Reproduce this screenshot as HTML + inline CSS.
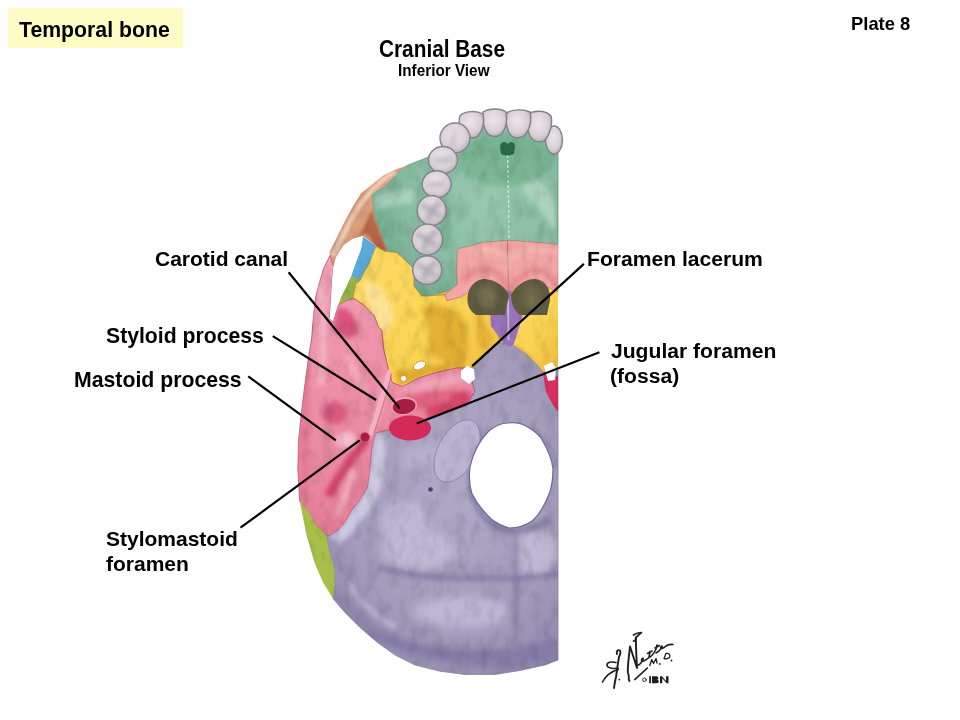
<!DOCTYPE html>
<html><head><meta charset="utf-8">
<style>
html,body{margin:0;padding:0;background:#fff;}
body{width:960px;height:720px;position:relative;overflow:hidden;font-family:"Liberation Sans",sans-serif;}
.t{position:absolute;font-weight:bold;color:#000;white-space:nowrap;line-height:30px;font-size:21px;will-change:transform;}
#box{position:absolute;left:8px;top:8px;width:175px;height:40px;background:#fffcc5;}
svg{position:absolute;left:0;top:0;}
</style></head><body>
<div id="box"></div>
<div class="t" style="left:19px;top:14.8px;font-size:21.25px;">Temporal bone</div>
<div class="t" style="left:851px;top:9px;font-size:18.4px;">Plate 8</div>
<div class="t" style="left:378.6px;top:35.1px;font-size:20.8px;transform:scale(1,1.16);transform-origin:0 22.2px;">Cranial Base</div>
<div class="t" style="left:397.6px;top:55.7px;font-size:15.3px;transform:scale(1,1.12);transform-origin:0 20.3px;">Inferior View</div>
<svg width="960" height="720" viewBox="0 0 960 720">

<defs>
<radialGradient id="gLav" cx="0.55" cy="0.42" r="0.7">
<stop offset="0" stop-color="#b0a9c6"/><stop offset="0.65" stop-color="#a49cbc"/><stop offset="1" stop-color="#9088ac"/>
</radialGradient>
<radialGradient id="gGreen" cx="0.6" cy="0.45" r="0.65">
<stop offset="0" stop-color="#98c8b0"/><stop offset="0.6" stop-color="#8abea4"/><stop offset="1" stop-color="#70aa8e"/>
</radialGradient>
<linearGradient id="gPink" x1="0.3" y1="0" x2="0.5" y2="1">
<stop offset="0" stop-color="#f2a2b6"/><stop offset="0.4" stop-color="#ee90a8"/><stop offset="0.75" stop-color="#ea86a0"/><stop offset="1" stop-color="#e47894"/>
</linearGradient>
<linearGradient id="gYel" x1="0" y1="0" x2="1" y2="1">
<stop offset="0" stop-color="#fddc66"/><stop offset="0.6" stop-color="#fbd452"/><stop offset="1" stop-color="#ecbd3e"/>
</linearGradient>
<linearGradient id="gBrown" x1="0" y1="0" x2="1" y2="1">
<stop offset="0" stop-color="#c27250"/><stop offset="0.45" stop-color="#dc9e7e"/><stop offset="1" stop-color="#b8643f"/>
</linearGradient>
<radialGradient id="gTooth" cx="0.45" cy="0.4" r="0.65">
<stop offset="0" stop-color="#ece6ea"/><stop offset="0.65" stop-color="#d8d0d6"/><stop offset="1" stop-color="#b4acb4"/>
</radialGradient>
<filter id="tex" x="0" y="0" width="100%" height="100%">
<feTurbulence type="fractalNoise" baseFrequency="0.09 0.05" numOctaves="3" seed="7"/>
<feColorMatrix type="matrix" values="0 0 0 0 0  0 0 0 0 0  0 0 0 0 0  0 0 0 -2.2 1.25"/>
</filter>
<filter id="blur2" x="-20%" y="-20%" width="140%" height="140%"><feGaussianBlur stdDeviation="2.5"/></filter>
<filter id="blur1" x="-20%" y="-20%" width="140%" height="140%"><feGaussianBlur stdDeviation="1.2"/></filter>
<filter id="blur4" x="-20%" y="-20%" width="140%" height="140%"><feGaussianBlur stdDeviation="5"/></filter>
<clipPath id="cSkull"><path d="M558,128 L540,116 L518,114 L494,114 L470,118 L456,128 L444,142 L426,158 L408,165.5 L383,175 L361,193 L346,218 L334,243 L326,260 L315,299 L309,352 L301.7,410 L297.8,468 L301,503 L306.7,536 L315,564 L333,598.6 L345,612.5 L377.5,642.5 L415,665 L465,674.5 L495,674.5 L545,665 L558,660 Z"/></clipPath>
<clipPath id="cLav"><path d="M499.7,342.8 L513.6,345.6 L526,354 L537,365 L542.8,372 L558,370 L558,660 L545,665 L520,670.5 L495,674.5 L465,674.5 L440,671.2 L415,665 L395,655 L377.5,642.5 L360,627.5 L345,612.5 L333,598.6 L334.4,589 L334.4,569.4 L328.9,550 L326,534.7 L328,536 L338.6,530.3 L346.4,520.6 L352,509 L358,503 L367.8,487.5 L369.7,472 L371.7,448.6 L375.6,433 L400,428 L433,418 L466.7,405.6 L474.7,391.4 L472,381.7 L473,368 L485.8,355 Z"/></clipPath>
<clipPath id="cGreen"><path d="M558,132 L540,126 L520,122 L494,121 L470,124 L450,134 L438,152 L426,158 L406.7,165.6 L399,171 L395,176 L385,186 L371.7,194.7 L373.6,214 L381.4,235.6 L387.2,251 L396.4,252.4 L404,259 L414,269 L414,286 L421.7,296 L427.5,296 L448,290.8 L457,285 L456.5,271.7 L457.5,250.8 L459.6,248.7 L482.5,242.5 L509.6,240.4 L536.7,242.5 L558,244.6 Z"/></clipPath>
<clipPath id="cPink"><path d="M330,255.5 L323.7,268.2 L319.2,283.4 L315.3,298.7 L313,321.6 L311.5,340 L309.4,351.7 L305.6,378.9 L301.7,410 L298.7,438.9 L297.8,468 L299.7,501 L309.4,512.8 L315.3,524.4 L323,532.2 L328,536 L338.6,530.3 L346.4,520.6 L352,509 L358,503 L367.8,487.5 L369.7,472 L371.7,448.6 L375.6,433 L391,429 L420,422 L445,413 L466.7,405.6 L474.7,391.4 L472,381.7 L473,368 L465,368 L456.7,368 L438,372 L419,378 L402.5,386.7 L392,382.5 L388,368 L383.7,349 L381.7,330 L378.7,327.7 L374,315.5 L363.4,304.8 L354.3,298.7 L346.6,300.2 L337.5,306.3 L333,321.6 L329.8,318.5 L331.4,291 L333,268 L334.4,269.7 Z"/></clipPath>
<clipPath id="cBrown"><path d="M408,165.5 L396.7,168.9 L383.3,175.5 L372.2,184.4 L361.1,193.3 L353.3,205.8 L346.4,218.3 L339.4,232.2 L333.9,243.3 L329.5,252 L330,255.5 L334.4,269.7 L336,257.5 L343.6,245.3 L352.7,239 L363.4,236 L376,246 L384.7,251.4 L387.2,251 L381.4,235.6 L375,218 L373.6,214 L371.7,194.7 L378,190 L385,186 L389,181 L395,176 L399,171 Z"/></clipPath>
<clipPath id="cSal"><path d="M457.5,250.8 L459.6,248.7 L482.5,242.5 L509.6,240.4 L536.7,242.5 L558,244.6 L558,292 L549,288 L530.4,279 L512,290 L507.5,292.5 L482.5,280 L468,292.5 L461.7,296.7 L447,300.8 L445,294.6 L458,284 L456.5,271.7 Z"/></clipPath>
<clipPath id="cYel"><path d="M360.4,280.4 L364,272 L369.5,263.6 L372,256 L376,246.5 L384.7,251.4 L396.4,252.4 L404,259 L414,269 L414,286 L421.7,296 L427.5,296 L445,294.6 L447,300.8 L460,297 L470,286 L478,300 L500,300 L496,325 L499.7,342.8 L485.8,355 L473,368 L465,368 L456.7,368 L438,372 L419,378 L402.5,386.7 L392,382.5 L388,368 L383.7,349 L381.7,330 L378.7,327.7 L374,315.5 L363.4,304.8 L354.3,298.7 L352.7,298.7 L355.8,283.4 Z"/></clipPath>
</defs>
<path d="M414,262 L558,262 L558,378 L470,384 L400,392 L380,300 Z" fill="#f0c440"/>
<!-- lavender occipital base -->
<path d="M499.7,342.8 L513.6,345.6 L526,354 L537,365 L542.8,372 L558,370 L558,660 L545,665 L520,670.5 L495,674.5 L465,674.5 L440,671.2 L415,665 L395,655 L377.5,642.5 L360,627.5 L345,612.5 L333,598.6 L334.4,589 L334.4,569.4 L328.9,550 L326,534.7 L328,536 L338.6,530.3 L346.4,520.6 L352,509 L358,503 L367.8,487.5 L369.7,472 L371.7,448.6 L375.6,433 L400,428 L433,418 L466.7,405.6 L474.7,391.4 L472,381.7 L473,368 L485.8,355 Z" fill="url(#gLav)" stroke="#8a7ea8" stroke-width="0.8"/>
<g clip-path="url(#cLav)"><g filter="url(#blur4)" opacity="0.8">
<path d="M335,600 C370,645 430,668 510,668 L560,660 L560,640 C520,652 455,655 405,640 C372,628 350,610 340,590 Z" fill="#8278a4"/>
<ellipse cx="405" cy="522" rx="24" ry="22" fill="#c4bdd8"/>
<ellipse cx="418" cy="550" rx="36" ry="20" fill="#c6c0da"/>
<ellipse cx="536" cy="552" rx="20" ry="24" fill="#c6c0da"/>
<ellipse cx="462" cy="612" rx="48" ry="16" fill="#c4bdd8"/>
<ellipse cx="430" cy="460" rx="30" ry="14" fill="#bab3d0"/>
</g><g filter="url(#blur2)" opacity="0.75">
<path d="M380,568 C410,576 440,579 470,578 C495,578 520,581 558,574" stroke="#7c72a0" stroke-width="5" fill="none"/>
<path d="M365,632 C400,650 460,660 520,653 C540,649 550,646 558,643" stroke="#8278a4" stroke-width="6" fill="none"/>
<path d="M515,532 C516,570 516,610 515,648" stroke="#887ea8" stroke-width="4" fill="none"/>
<path d="M482,432 C470,452 466,488 482,514 C498,534 528,536 550,518" stroke="#7a6f9e" stroke-width="6" fill="none"/>
<path d="M530,428 C545,440 556,455 558,470" stroke="#8a80aa" stroke-width="5" fill="none"/>
<path d="M350,585 C362,605 380,620 398,628" stroke="#c6bedc" stroke-width="5" fill="none"/>
</g></g>
<!-- occipital condyle -->
<ellipse cx="457" cy="451" rx="19" ry="34" transform="rotate(28 457 451)" fill="#bcb2d2" stroke="#8c81ac" stroke-width="0.8"/>
<!-- hypoglossal canal dot -->
<circle cx="430.5" cy="489.5" r="2.3" fill="#4a4068"/>
<!-- green palate -->
<path d="M558,132 L540,126 L520,122 L494,121 L470,124 L450,134 L438,152 L426,158 L406.7,165.6 L399,171 L395,176 L385,186 L371.7,194.7 L373.6,214 L381.4,235.6 L387.2,251 L396.4,252.4 L404,259 L414,269 L414,286 L421.7,296 L427.5,296 L448,290.8 L457,285 L456.5,271.7 L457.5,250.8 L459.6,248.7 L482.5,242.5 L509.6,240.4 L536.7,242.5 L558,244.6 Z" fill="url(#gGreen)" stroke="#5e8e70" stroke-width="0.7"/>
<g clip-path="url(#cGreen)"><g filter="url(#blur2)" opacity="0.6">
<path d="M374,198 C390,190 405,188 416,190 L414,204 C400,204 388,206 376,210 Z" fill="#c0e0cc"/>
<path d="M525,170 C542,178 552,195 556,212 L556,232 C545,215 532,200 522,190 Z" fill="#c3e0cf"/>
<path d="M446,180 C450,200 452,225 450,250 L440,250 C438,225 438,195 446,180 Z" fill="#6aa684"/>
<ellipse cx="505" cy="160" rx="48" ry="26" fill="#6cae88"/>
</g></g>
<!-- palate midline -->
<path d="M507.5,155 L508.5,200 L509,240" stroke="#d8eadf" stroke-width="1.3" fill="none" stroke-dasharray="3 2" opacity="0.9"/>
<!-- incisive fossa -->
<path d="M500,146 C502,140 506,142 508,144 C510,141 514,141 515,146 L514,154 C510,156 505,156 501,154 Z" fill="#2c6a4c"/>
<!-- brown zygomatic -->
<path d="M408,165.5 L396.7,168.9 L383.3,175.5 L372.2,184.4 L361.1,193.3 L353.3,205.8 L346.4,218.3 L339.4,232.2 L333.9,243.3 L329.5,252 L330,255.5 L334.4,269.7 L336,257.5 L343.6,245.3 L352.7,239 L363.4,236 L376,246 L384.7,251.4 L387.2,251 L381.4,235.6 L375,218 L373.6,214 L371.7,194.7 L378,190 L385,186 L389,181 L395,176 L399,171 Z" fill="url(#gBrown)"/>
<g clip-path="url(#cBrown)"><g filter="url(#blur1)" opacity="0.8">
<path d="M395,172 C380,180 365,195 352,218 C345,232 338,245 333,256" stroke="#f4d6c2" stroke-width="5" fill="none"/>
<path d="M372,210 C376,225 382,240 386,250 L378,250 C372,238 366,228 360,236 Z" fill="#b05c3c"/>
</g></g>
<!-- blue -->
<path d="M363,236.5 L376,246 L372,256 L369.5,263.6 L364,272 L360.4,280.4 L352.7,279 L351.2,275.8 L356,262 L361,249 Z" fill="#5aacd8"/>
<!-- olive upper -->
<path d="M351.2,275.8 L360.4,280.4 L355.8,283.4 L352.7,298.7 L346.6,300.2 L337.5,306.3 L342,295 L347,285 Z" fill="#98b84c"/>
<!-- yellow -->
<path d="M360.4,280.4 L364,272 L369.5,263.6 L372,256 L376,246.5 L384.7,251.4 L396.4,252.4 L404,259 L414,269 L414,286 L421.7,296 L427.5,296 L445,294.6 L447,300.8 L460,297 L470,286 L478,300 L500,300 L496,325 L499.7,342.8 L485.8,355 L473,368 L465,368 L456.7,368 L438,372 L419,378 L402.5,386.7 L392,382.5 L388,368 L383.7,349 L381.7,330 L378.7,327.7 L374,315.5 L363.4,304.8 L354.3,298.7 L352.7,298.7 L355.8,283.4 Z" fill="url(#gYel)" stroke="#b88a3a" stroke-width="0.8"/>
<g clip-path="url(#cYel)"><g filter="url(#blur2)" opacity="0.75">
<path d="M420,310 C432,300 450,305 462,315 C470,335 470,355 465,362 C450,365 435,360 428,350 C430,335 428,320 420,310 Z" fill="#dba62c"/>
<path d="M478,305 C485,320 490,335 492,345 L480,350 C476,335 474,320 478,305 Z" fill="#e0ac30"/>
<path d="M362,284 C375,278 388,292 394,315 C392,332 384,336 378,326 C372,312 366,298 362,284 Z" fill="#fde7a8"/>
<path d="M395,372 C410,368 430,365 460,362 L462,368 C440,372 415,380 398,386 Z" fill="#d8a028"/>
</g></g>
<path d="M505,296 L558,288 L558,361 L540,363.6 L517.8,344 L513.6,345.6 L518,320 Z" fill="url(#gYel)"/>
<!-- salmon palatine -->
<path d="M457.5,250.8 L459.6,248.7 L482.5,242.5 L509.6,240.4 L536.7,242.5 L558,244.6 L558,292 L549,288 L530.4,279 L512,290 L507.5,292.5 L482.5,280 L468,292.5 L461.7,296.7 L447,300.8 L445,294.6 L458,284 L456.5,271.7 Z" fill="#f3a6a4" stroke="#c87c7c" stroke-width="0.6"/>
<path d="M507.5,241 L508.5,292" stroke="#b87878" stroke-width="1" fill="none"/>
<!-- vomer purple -->
<path d="M489,296 L507.5,290 L526,296 L522,318 L513.7,344.6 L509.6,346.7 L503,342.5 L491,326 Z" fill="#9a74ba"/>
<path d="M508,300 L508.5,340" stroke="#c8b4de" stroke-width="2"/>
<!-- choanae -->
<g clip-path="url(#cSal)"><g filter="url(#blur2)" opacity="0.7">
<path d="M462,282 C470,272 480,268 490,270 C500,272 506,282 509,292 C516,280 526,270 538,270 C548,272 554,280 558,288" stroke="#e07a80" stroke-width="5" fill="none"/>
<path d="M470,250 C490,248 505,250 508,262 C512,250 530,248 556,252" stroke="#f6c0b8" stroke-width="6" fill="none"/>
</g></g>
<path d="M467.5,300 C467,288 475,279 485,279 C497,280 505,287 509,295 L505,315 L476,315 C470,311 467.5,306 467.5,300 Z" fill="#5f5b42"/>
<path d="M511,295 C515,286 525,279 535,279 C546,280 551,290 550,300 L547,315 L520,315 C514,311 511,303 511,295 Z" fill="#5f5b42"/>
<ellipse cx="487" cy="297" rx="9" ry="11" fill="#807854" opacity="0.7" filter="url(#blur2)"/>
<ellipse cx="531" cy="297" rx="9" ry="11" fill="#807854" opacity="0.7" filter="url(#blur2)"/>
<!-- pink temporal -->
<path d="M330,255.5 L323.7,268.2 L319.2,283.4 L315.3,298.7 L313,321.6 L311.5,340 L309.4,351.7 L305.6,378.9 L301.7,410 L298.7,438.9 L297.8,468 L299.7,501 L309.4,512.8 L315.3,524.4 L323,532.2 L328,536 L338.6,530.3 L346.4,520.6 L352,509 L358,503 L367.8,487.5 L369.7,472 L371.7,448.6 L375.6,433 L391,429 L420,422 L445,413 L466.7,405.6 L474.7,391.4 L472,381.7 L473,368 L465,368 L456.7,368 L438,372 L419,378 L402.5,386.7 L392,382.5 L388,368 L383.7,349 L381.7,330 L378.7,327.7 L374,315.5 L363.4,304.8 L354.3,298.7 L346.6,300.2 L337.5,306.3 L333,321.6 L329.8,318.5 L331.4,291 L333,268 L334.4,269.7 Z" fill="url(#gPink)" stroke="#b85070" stroke-width="0.8"/>
<g clip-path="url(#cPink)"><g filter="url(#blur2)" opacity="0.85">
<path d="M302,340 C303,400 301,460 304,500 L309,505 C307,460 308,400 308,340 Z" fill="#e07090"/>
<path d="M425,400 C440,394 458,390 472,392 L470,410 C455,415 440,420 428,422 Z" fill="#d63a64"/>
<path d="M404,396 C420,392 440,390 455,390 L450,402 C435,404 420,408 406,412 Z" fill="#e0607e"/>
<path d="M400,386 C425,380 450,374 468,372 L470,380 C450,384 425,390 404,394 Z" fill="#f2a8bc"/>
<path d="M336,310 C345,303 358,315 358,334 C350,340 340,338 334,330 Z" fill="#d84a74"/>
<ellipse cx="335" cy="413" rx="12" ry="11" fill="#d85078"/>
<ellipse cx="346" cy="440" rx="10" ry="8" fill="#f8c8d4"/>
<path d="M364,436 C352,450 338,470 324,494 L332,498 C344,476 358,456 370,442 Z" fill="#cc3464"/>
<path d="M318,285 C322,320 320,360 317,385 L324,385 C327,355 327,320 324,285 Z" fill="#f6bccb"/>
<path d="M386,374 C380,395 374,415 368,432 L374,434 C380,416 386,398 392,378 Z" fill="#f6b4c6"/>
<path d="M350,470 C346,485 340,500 334,515 L340,518 C346,503 352,488 356,472 Z" fill="#f4b4c4"/>
<path d="M345,350 C355,360 365,380 368,395 C360,390 350,375 345,360 Z" fill="#f4aec0"/>
</g></g>
<g clip-path="url(#cLav)"><g filter="url(#blur2)" opacity="0.9">
<path d="M375,433 C372,460 370,485 358,503 C348,518 338,528 330,536 L340,545 C355,530 372,510 380,490 C386,470 386,450 384,433 Z" fill="#d2cde6"/>
</g></g>
<!-- pink right edge -->
<path d="M542.8,372 L550,378 L558,376 L558,412 L553,405 L546,392 Z" fill="#d8305e"/>
<path d="M544,366 L552,362 L556,368 L555,380 L548,381 Z" fill="#fff"/>
<!-- green strip lower -->
<path d="M299.7,501 L306.7,536 L315,564 L323.3,583 L333,598.6 L334.4,589 L334.4,569.4 L328.9,550 L326,534.7 L315.3,524.4 L309.4,512.8 Z" fill="#a8c04a"/>
<g clip-path="url(#cSkull)" opacity="0.10"><rect x="290" y="100" width="270" height="580" filter="url(#tex)"/></g>
<!-- foramen magnum -->
<path d="M507.5,423 C515,422 520,423 524,425 C532,429 537,433 540.8,437.5 C547,448 552,458 553,468.75 C553,478 552,485 550,491.7 C545,505 540,514 532.5,520.8 C525,526 516,528 509.6,528 C502,526 496,523 490.8,518.75 C482,510 476,502 472,493.75 C469,485 469,475 470,466.7 C473,453 478,442 488.75,431 C495,426 500,423 507.5,423 Z" fill="#fff" stroke="#6f6494" stroke-width="1.2"/>
<!-- styloid -->
<path d="M389,372 C386,385 380,405 371,433" stroke="#f3b2c4" stroke-width="4.5" fill="none" stroke-linecap="round"/>
<path d="M392,373 C389,386 383,406 374,433" stroke="#c85a7a" stroke-width="1" fill="none" opacity="0.7"/>
<!-- carotid canal & jugular foramen -->
<ellipse cx="410" cy="428" rx="21" ry="12.5" fill="#d42a5a"/>
<ellipse cx="404" cy="406" rx="13" ry="8.8" fill="#f0a0b4" transform="rotate(-8 404 406)"/><ellipse cx="404" cy="406.5" rx="11.5" ry="7.5" fill="#a81c44" transform="rotate(-8 404 406)"/>
<circle cx="365" cy="437" r="4.5" fill="#a81c44"/>
<!-- lacerum white -->
<path d="M461,371 L467,366 L474,369 L475,379 L469,384 L461,378 Z" fill="#fff"/>
<!-- foramen ovale/spinosum -->
<ellipse cx="419.5" cy="365.5" rx="6.5" ry="3.8" transform="rotate(-25 419.5 365.5)" fill="#fff" stroke="#c09030" stroke-width="0.8"/>
<circle cx="403.5" cy="378.5" r="3" fill="#fff" stroke="#c09030" stroke-width="0.8"/>
<!-- white hole between arch -->
<path d="M363.4,236 L352.7,239 L343.6,245.3 L336,257.5 L333,268 L331.4,291 L329.8,318.5 L333,321.6 L337.5,306.3 L342,295 L347,285 L351.2,275.8 L356,262 L361,249 L363,236.5 Z" fill="#fff"/>
<!-- teeth -->
<g fill="url(#gTooth)" stroke="#85818c" stroke-width="1.4">
<ellipse cx="554" cy="140" rx="8.5" ry="14"/>
<path d="M528,114 C534,110 546,110 551,116 C553,124 550,135 544,141 C538,143 532,141 530,136 C527,128 526,120 528,114 Z"/>
<path d="M507,113 C512,109 524,109 530,112 C532,120 530,130 524,136 C518,139 512,138 509,133 C506,126 505,119 507,113 Z"/>
<path d="M483,112 C489,108 501,108 506,112 C508,120 506,130 500,135 C494,138 488,136 486,131 C483,125 482,118 483,112 Z"/>
<path d="M460,116 C464,111 476,110 483,114 C485,122 483,131 477,137 C471,139 465,137 462,132 C459,126 458,121 460,116 Z"/>
<ellipse cx="455" cy="138" rx="15" ry="15"/>
<ellipse cx="443" cy="160" rx="14.5" ry="13.5"/>
<ellipse cx="436.7" cy="184.3" rx="14.5" ry="13.5"/>
<ellipse cx="431.7" cy="210.5" rx="14.5" ry="15"/>
<ellipse cx="427.3" cy="239.6" rx="15.3" ry="15.5"/>
<ellipse cx="427.2" cy="270.2" rx="14.6" ry="14.3"/>
</g>
<g stroke="#a29eaa" stroke-linecap="round" fill="none" opacity="0.9" filter="url(#blur2)">
<path d="M422.7,205.5 L430.7,209.5 L439.7,203.5 M430.7,209.5 L428.7,219.5 M430.7,209.5 L438.7,215.5" stroke-width="4.5"/>
<path d="M418.3,234.6 L426.3,238.6 L435.3,232.6 M426.3,238.6 L424.3,248.6 M426.3,238.6 L434.3,244.6" stroke-width="4.5"/>
<path d="M418.2,265.2 L426.2,269.2 L435.2,263.2 M426.2,269.2 L424.2,279.2 M426.2,269.2 L434.2,275.2" stroke-width="4.5"/>
<path d="M436,161 C440,157 446,163 450,159" stroke-width="3"/>
<path d="M429.7,185.3 C433.7,181.3 439.7,187.3 443.7,183.3" stroke-width="3"/>
<path d="M455,132 L452,146" stroke-width="2.5"/>
</g>
<!-- leader lines -->
<g stroke="#000" stroke-width="2.2" stroke-linecap="butt">
<line x1="288.6" y1="272.2" x2="399.7" y2="408.3"/>
<line x1="583.9" y1="263.9" x2="472.2" y2="366.1"/>
<line x1="272.8" y1="336.1" x2="376.1" y2="400"/>
<line x1="248.3" y1="376.4" x2="335.8" y2="440.3"/>
<line x1="599.4" y1="352.2" x2="416.7" y2="423.6"/>
<line x1="240.5" y1="527.7" x2="359.6" y2="440.3"/>
</g>
<!-- signature -->
<g fill="none" stroke="#1e1e1e" stroke-linecap="round" stroke-linejoin="round">
<path d="M617,654 C616,651 618,649.5 620,650.5 C621,652 620,655 619,657 C618,663 617,670 616,677 C615,681 614.5,685 614,688" stroke-width="1.9"/>
<path d="M618,668 C614,669 608,668.5 607,665.5 C606.5,662.5 611,661 616,662.5" stroke-width="1.5"/>
<path d="M602.5,682 C605,677 610,672 618.5,669.3" stroke-width="1.6"/>
<circle cx="619.3" cy="679.6" r="0.9" fill="#1e1e1e" stroke="none"/>
<path d="M629.5,681 C627.5,678 630,676 628,673.5 C627,670 628.5,660 630,646.5 L637,668 C636.5,660 636,648 635.8,637.5" stroke-width="1.9"/>
<path d="M633.5,635 C636,633 639,632.5 641.5,632.5 C639,634.5 636.5,636.5 635.8,638.3 M633.5,641.2 C634.5,640.5 635.5,640 636,639.5" stroke-width="1.7"/>
<path d="M637.5,665.5 C640,664.5 642,662 643,659.5 C644,657.5 641.5,658 641.5,660.5 C642,662 646,660.5 649,657.5 L650,651.5 M647.5,653.5 L652,651 M650,657 C652,656 654,653 656,649 L657,645 M655,648 L659.5,645.5 M656,653 C658,652 661,649 662,647 C663,645.5 660.5,646 660.5,648 C661,649.5 664,648 666,646 C668,644.5 670,644 673,644.5" stroke-width="1.6"/>
<path d="M634.7,679.6 L647.3,668.1" stroke-width="1.5"/>
<path d="M649.8,665.5 L651.8,659.5 L653.5,663.5 L656,658.5 L657,663" stroke-width="1.3"/>
<path d="M664,658.5 L666,653.5 C669,653 671,655 669.5,657.5 C668,659 666,659 664,658.5" stroke-width="1.3"/>
<circle cx="644.4" cy="679.8" r="1.8" stroke-width="0.9"/>
</g>
<g fill="#1e1e1e"><circle cx="659.8" cy="664" r="0.9"/><circle cx="671.5" cy="660.5" r="0.9"/>
<rect x="649.2" y="676.2" width="1.8" height="7"/><path d="M652,676.2 L656.5,676.2 C659,676.5 659,679.5 657,679.7 C659.5,680 659.5,683.2 656.5,683.2 L652,683.2 Z"/><path d="M660,676.2 L662,676.2 L666,681 L666,676.2 L668.5,676.2 L668.5,683.2 L666.5,683.2 L662.3,678.3 L662.3,683.2 L660,683.2 Z"/></g>

</svg>
<div class="t" style="left:155px;top:243.8px;">Carotid canal</div>
<div class="t" style="left:586.5px;top:244px;font-size:21.1px;">Foramen lacerum</div>
<div class="t" style="left:106.1px;top:321px;font-size:21.2px;">Styloid process</div>
<div class="t" style="left:74.1px;top:365px;font-size:21.25px;">Mastoid process</div>
<div class="t" style="left:610.5px;top:336px;font-size:21.1px;">Jugular foramen</div>
<div class="t" style="left:610.2px;top:360.6px;font-size:21.1px;">(fossa)</div>
<div class="t" style="left:106.1px;top:523.9px;">Stylomastoid</div>
<div class="t" style="left:105.8px;top:548.9px;">foramen</div>
</body></html>
